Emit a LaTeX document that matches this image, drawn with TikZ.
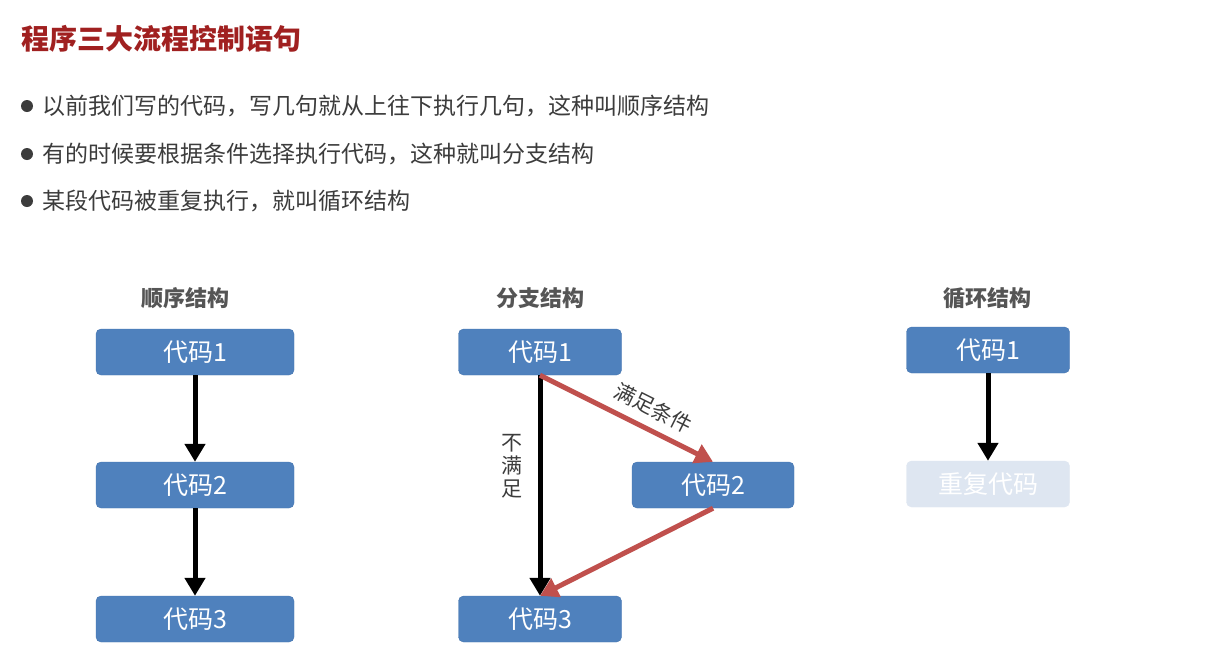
\documentclass[tikz,border=0pt]{standalone}
\usepackage{fontspec}
\setmainfont{Noto Sans CJK SC}
\usepackage{xcolor}
\usepackage{tikz}
\usetikzlibrary{arrows.meta, positioning}

\definecolor{codeblue}{RGB}{79,129,189}
\definecolor{codeedge}{RGB}{70,118,176}
\definecolor{condred}{RGB}{192,80,77}
\definecolor{titlered}{RGB}{160,32,32}
\definecolor{textgray}{RGB}{60,60,60}
\definecolor{headgray}{RGB}{85,85,85}
\definecolor{fadeblue}{RGB}{222,230,241}

\tikzset{
  codebox/.style={draw=codeedge, fill=codeblue, rounded corners=5pt, text=white,
    minimum width=198pt, minimum height=46pt, inner sep=0pt,
    font=\fontsize{25}{28}\selectfont},
  fadebox/.style={codebox, draw=fadeblue, fill=fadeblue},
  flow/.style={line width=5pt, -{Triangle[width=20pt,length=18pt]}},
  headtext/.style={text=headgray, font=\fontsize{22}{26}\selectfont\bfseries},
  linetext/.style={anchor=west, text=textgray, inner sep=0pt, font=\fontsize{23}{26}\selectfont},
  labeltext/.style={text=textgray, font=\fontsize{21}{23}\selectfont}
}

\begin{document}
\begin{tikzpicture}[x=1pt, y=-1pt]
    \fill[white] (0,0) rectangle (1220,649);
    \useasboundingbox (0,0) rectangle (1220,649);

    % title and bullet lines
    \node[anchor=west, inner sep=0pt, text=titlered, font=\fontsize{28}{32}\selectfont\bfseries] (title) at (21,39) {程序三大流程控制语句};
    \fill[textgray] (27,106) circle (6);
    \fill[textgray] (27,154) circle (6);
    \fill[textgray] (27,201) circle (6);
    \node[linetext] (lineA) at (42,106) {以前我们写的代码，写几句就从上往下执行几句，这种叫顺序结构};
    \node[linetext] (lineB) at (42,154) {有的时候要根据条件选择执行代码，这种就叫分支结构};
    \node[linetext] (lineC) at (42,201) {某段代码被重复执行，就叫循环结构};

    % sequence
    \node[headtext] (seqhead) at (185,298) {顺序结构};
    \node[codebox] (seqA) at (195,352) {代码1};
    \node[codebox] (seqB) at (195,485) {代码2};
    \node[codebox] (seqC) at (195,619) {代码3};
    \draw[flow] (seqA) -- (seqB);
    \draw[flow] (seqB) -- (seqC);

    % branch
    \node[headtext] (brhead) at (540,298) {分支结构};
    \node[codebox, minimum width=163pt] (brA) at (540,352) {代码1};
    \node[codebox, minimum width=162pt] (brB) at (713,485) {代码2};
    \node[codebox, minimum width=163pt] (brC) at (540,619) {代码3};
    \draw[flow] (brA.south) -- (brC.north);
    \draw[flow, condred] (brA.south) -- node[pos=0.6, sloped, above=6pt, labeltext] {满足条件} (brB.north);
    \draw[flow, condred] (brB.south) -- (brC.north);
    \node[labeltext, align=center, inner sep=0pt] (nolabel) at (512,466) {不\\满\\足};

    % loop
    \node[headtext] (loophead) at (987,298) {循环结构};
    \node[codebox, minimum width=163pt] (loopA) at (988,350) {代码1};
    \node[fadebox, minimum width=163pt] (loopB) at (988,484) {重复代码};
    \draw[flow] (loopA) -- (loopB);
\end{tikzpicture}
\end{document}
